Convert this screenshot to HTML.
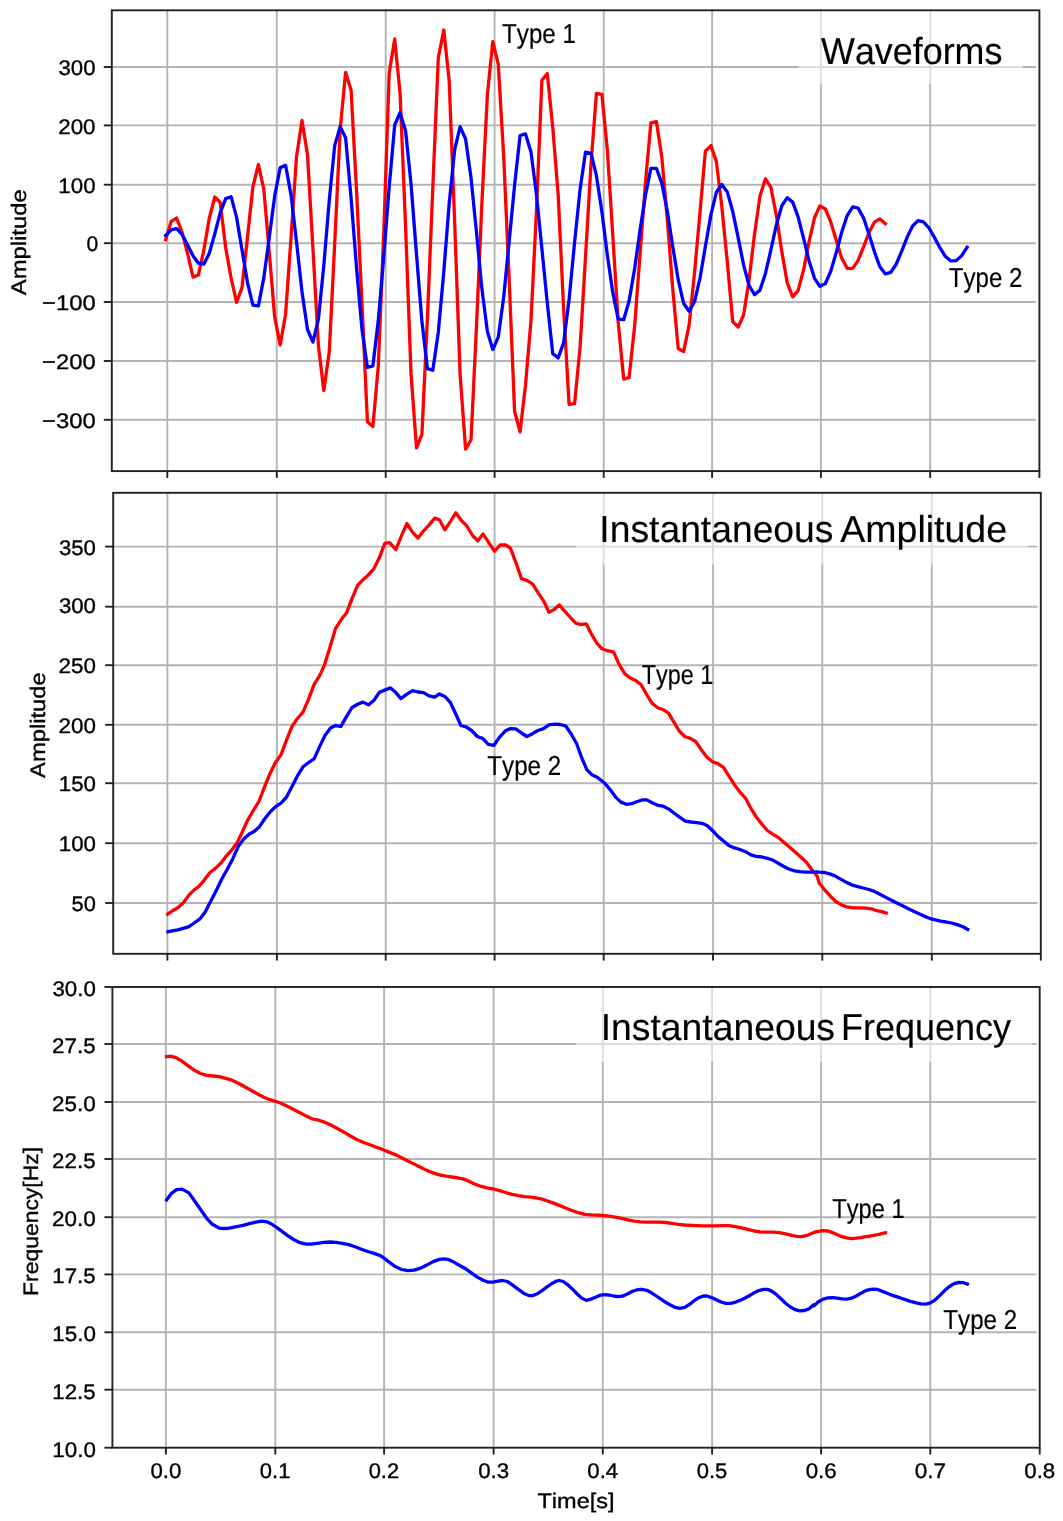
<!DOCTYPE html>
<html><head><meta charset="utf-8"><title>Waveforms</title>
<style>html,body{margin:0;padding:0;background:#fff}svg{display:block;filter:blur(0.4px);font-family:"Liberation Sans",sans-serif;font-kerning:none;text-rendering:geometricPrecision}</style>
</head><body>
<svg width="1063" height="1521" viewBox="0 0 1063 1521">
<line x1="167.3" y1="10.3" x2="167.3" y2="471.1" stroke="#b4b4b4" stroke-width="1.9"/>
<line x1="276.8" y1="10.3" x2="276.8" y2="471.1" stroke="#b4b4b4" stroke-width="1.9"/>
<line x1="385.7" y1="10.3" x2="385.7" y2="471.1" stroke="#b4b4b4" stroke-width="1.9"/>
<line x1="494.6" y1="10.3" x2="494.6" y2="471.1" stroke="#b4b4b4" stroke-width="1.9"/>
<line x1="603.7" y1="10.3" x2="603.7" y2="471.1" stroke="#b4b4b4" stroke-width="1.9"/>
<line x1="712.1" y1="10.3" x2="712.1" y2="471.1" stroke="#b4b4b4" stroke-width="1.9"/>
<line x1="820.9" y1="10.3" x2="820.9" y2="471.1" stroke="#b4b4b4" stroke-width="1.9"/>
<line x1="930.2" y1="10.3" x2="930.2" y2="471.1" stroke="#b4b4b4" stroke-width="1.9"/>
<line x1="111.8" y1="419.8" x2="1036.2" y2="419.8" stroke="#b4b4b4" stroke-width="1.9"/>
<line x1="111.8" y1="361.0" x2="1036.2" y2="361.0" stroke="#b4b4b4" stroke-width="1.9"/>
<line x1="111.8" y1="302.0" x2="1036.2" y2="302.0" stroke="#b4b4b4" stroke-width="1.9"/>
<line x1="111.8" y1="243.2" x2="1036.2" y2="243.2" stroke="#b4b4b4" stroke-width="1.9"/>
<line x1="111.8" y1="184.7" x2="1036.2" y2="184.7" stroke="#b4b4b4" stroke-width="1.9"/>
<line x1="111.8" y1="125.4" x2="1036.2" y2="125.4" stroke="#b4b4b4" stroke-width="1.9"/>
<line x1="111.8" y1="67.0" x2="1036.2" y2="67.0" stroke="#b4b4b4" stroke-width="1.9"/>
<rect x="798" y="11" width="225" height="73" fill="#fff" opacity="0.55"/>
<polyline points="165.7,239.6 171.2,221.3 176.6,218.1 182.1,232.3 187.5,253.1 193.0,277.1 198.4,274.9 203.9,249.7 209.3,218.1 214.8,197.0 220.2,202.4 225.7,248.0 231.1,278.1 236.6,302.4 242.0,287.6 247.5,237.2 252.9,186.8 258.4,164.5 263.8,189.2 269.3,252.6 274.7,317.3 280.2,345.0 285.6,314.1 291.1,236.7 296.5,157.0 302.0,120.5 307.5,154.6 312.9,247.8 318.4,345.5 323.8,390.5 329.3,351.3 334.7,243.7 340.2,129.1 345.6,72.3 351.1,90.3 356.5,189.6 362.0,303.4 367.4,421.7 372.9,426.4 378.3,366.1 383.8,232.1 389.2,73.0 394.7,38.9 400.1,93.5 405.6,227.2 411.0,373.4 416.5,447.9 421.9,434.3 427.4,318.6 432.8,188.1 438.3,57.7 443.8,30.0 449.2,81.0 454.7,223.1 460.1,374.6 465.6,449.1 471.0,440.0 476.5,326.2 481.9,202.7 487.4,94.6 492.8,41.6 498.3,64.4 503.7,156.3 509.2,280.3 514.6,411.5 520.1,431.9 525.5,385.2 531.0,320.3 536.4,212.0 541.9,80.2 547.3,73.6 552.8,127.9 558.2,195.2 563.7,310.5 569.1,404.3 574.6,403.7 580.1,346.9 585.5,257.1 591.0,164.3 596.4,93.5 601.9,94.4 607.3,149.5 612.8,235.6 618.2,322.1 623.7,379.1 629.1,377.5 634.6,326.5 640.0,255.0 645.5,181.9 650.9,122.8 656.4,121.6 661.8,157.0 667.3,219.4 672.7,288.2 678.2,348.5 683.6,351.6 689.1,325.2 694.5,273.1 700.0,212.3 705.4,151.2 710.9,145.6 716.4,161.9 721.8,206.3 727.3,262.0 732.7,321.6 738.2,327.0 743.6,315.0 749.1,279.7 754.5,234.4 760.0,196.1 765.4,178.9 770.9,187.4 776.3,215.1 781.8,251.5 787.2,282.7 792.7,296.8 798.1,290.6 803.6,269.7 809.0,242.0 814.5,217.8 819.9,205.9 825.4,209.0 830.8,222.1 836.3,240.5 841.7,257.9 847.2,268.3 852.7,268.4 858.1,260.3 863.6,246.9 869.0,232.6 874.5,222.1 879.9,218.9 885.4,223.7" fill="none" stroke="#ff0000" stroke-width="3.3" stroke-linejoin="round" stroke-linecap="square"/>
<polyline points="165.7,235.5 171.2,229.9 176.6,228.7 182.1,234.4 187.5,244.7 193.0,255.7 198.4,263.2 203.9,264.1 209.3,253.3 214.8,233.7 220.2,212.9 225.7,198.6 231.1,196.7 236.6,217.4 242.0,249.7 247.5,282.6 252.9,305.2 258.4,305.9 263.8,277.9 269.3,237.2 274.7,195.9 280.2,167.6 285.6,165.4 291.1,195.4 296.5,241.6 302.0,291.8 307.5,329.5 312.9,342.0 318.4,319.4 323.8,265.5 329.3,200.1 334.7,145.6 340.2,126.6 345.6,137.7 351.1,198.4 356.5,267.3 362.0,329.5 367.4,367.4 372.9,365.8 378.3,320.3 383.8,256.0 389.2,186.8 394.7,125.0 400.1,112.7 405.6,131.0 411.0,183.7 416.5,254.5 421.9,321.1 427.4,368.7 432.8,370.2 438.3,332.4 443.8,271.6 449.2,203.4 454.7,149.4 460.1,126.8 465.6,139.0 471.0,177.6 476.5,232.4 481.9,288.8 487.4,331.6 492.8,349.5 498.3,337.1 503.7,297.1 509.2,241.0 514.6,185.1 520.1,135.5 525.5,133.9 531.0,152.1 536.4,193.9 541.9,248.9 547.3,303.2 552.8,353.8 558.2,357.9 563.7,342.5 569.1,299.4 574.6,242.3 580.1,189.2 585.5,152.2 591.0,153.4 596.4,175.4 601.9,211.9 607.3,254.8 612.8,292.7 618.2,319.1 623.7,319.7 629.1,301.0 634.6,268.9 640.0,230.3 645.5,195.3 650.9,168.3 656.4,168.3 661.8,183.1 667.3,211.1 672.7,246.2 678.2,279.7 683.6,303.3 689.1,311.2 694.5,301.8 700.0,278.1 705.4,246.3 710.9,214.9 716.4,192.2 721.8,184.4 727.3,191.9 732.7,211.3 738.2,237.9 743.6,264.9 749.1,285.5 754.5,294.6 760.0,290.1 765.4,273.7 770.9,249.9 776.3,225.0 781.8,205.9 787.2,197.7 792.7,202.1 798.1,216.9 803.6,238.3 809.0,260.7 814.5,278.3 819.9,286.4 825.4,283.5 830.8,271.1 836.3,252.4 841.7,232.2 847.2,215.6 852.7,206.8 858.1,208.0 863.6,218.1 869.0,234.3 874.5,252.1 879.9,266.7 885.4,273.9 890.8,272.4 896.3,264.0 901.7,251.1 907.2,237.1 912.6,226.0 918.1,220.6 923.5,221.9 929.0,228.0 934.4,237.4 939.9,247.7 945.3,256.3 950.8,260.9 956.2,260.6 961.7,255.6 967.1,247.3" fill="none" stroke="#0000ff" stroke-width="3.3" stroke-linejoin="round" stroke-linecap="square"/>
<rect x="111.8" y="10.3" width="927.6" height="460.8" fill="none" stroke="#222" stroke-width="1.9"/>
<line x1="167.3" y1="471.1" x2="167.3" y2="477.9" stroke="#222" stroke-width="1.9"/>
<line x1="276.8" y1="471.1" x2="276.8" y2="477.9" stroke="#222" stroke-width="1.9"/>
<line x1="385.7" y1="471.1" x2="385.7" y2="477.9" stroke="#222" stroke-width="1.9"/>
<line x1="494.6" y1="471.1" x2="494.6" y2="477.9" stroke="#222" stroke-width="1.9"/>
<line x1="603.7" y1="471.1" x2="603.7" y2="477.9" stroke="#222" stroke-width="1.9"/>
<line x1="712.1" y1="471.1" x2="712.1" y2="477.9" stroke="#222" stroke-width="1.9"/>
<line x1="820.9" y1="471.1" x2="820.9" y2="477.9" stroke="#222" stroke-width="1.9"/>
<line x1="930.2" y1="471.1" x2="930.2" y2="477.9" stroke="#222" stroke-width="1.9"/>
<line x1="1039.4" y1="471.1" x2="1039.4" y2="477.9" stroke="#222" stroke-width="1.9"/>
<line x1="103.8" y1="419.8" x2="111.8" y2="419.8" stroke="#222" stroke-width="1.9"/>
<line x1="103.8" y1="361.0" x2="111.8" y2="361.0" stroke="#222" stroke-width="1.9"/>
<line x1="103.8" y1="302.0" x2="111.8" y2="302.0" stroke="#222" stroke-width="1.9"/>
<line x1="103.8" y1="243.2" x2="111.8" y2="243.2" stroke="#222" stroke-width="1.9"/>
<line x1="103.8" y1="184.7" x2="111.8" y2="184.7" stroke="#222" stroke-width="1.9"/>
<line x1="103.8" y1="125.4" x2="111.8" y2="125.4" stroke="#222" stroke-width="1.9"/>
<line x1="103.8" y1="67.0" x2="111.8" y2="67.0" stroke="#222" stroke-width="1.9"/>
<text transform="translate(42.03 428.00) scale(1.1328 1)" font-size="21" fill="#000" stroke="#000" stroke-width="0.35">−300</text>
<text transform="translate(42.03 369.20) scale(1.1328 1)" font-size="21" fill="#000" stroke="#000" stroke-width="0.35">−200</text>
<text transform="translate(42.03 310.20) scale(1.1328 1)" font-size="21" fill="#000" stroke="#000" stroke-width="0.35">−100</text>
<text transform="translate(86.38 251.40) scale(1.0041 1)" font-size="21" fill="#000" stroke="#000" stroke-width="0.35">0</text>
<text transform="translate(58.34 192.90) scale(1.0620 1)" font-size="21" fill="#000" stroke="#000" stroke-width="0.35">100</text>
<text transform="translate(58.17 133.60) scale(1.0669 1)" font-size="21" fill="#000" stroke="#000" stroke-width="0.35">200</text>
<text transform="translate(58.51 75.20) scale(1.0569 1)" font-size="21" fill="#000" stroke="#000" stroke-width="0.35">300</text>
<text transform="translate(26.00 295.25) rotate(-90) scale(1.1352 1)" font-size="21" fill="#000" stroke="#000" stroke-width="0.35">Amplitude</text>
<text transform="translate(821.04 63.70) scale(0.9545 1)" font-size="37.6" fill="#000" stroke="#000" stroke-width="0.15">Waveforms</text>
<text transform="translate(502.06 42.80) scale(0.8825 1)" font-size="27.4" fill="#000" stroke="#000" stroke-width="0.2">Type 1</text>
<text transform="translate(948.76 286.80) scale(0.8793 1)" font-size="27.4" fill="#000" stroke="#000" stroke-width="0.2">Type 2</text>
<line x1="167.4" y1="492.8" x2="167.4" y2="953.8" stroke="#b4b4b4" stroke-width="1.9"/>
<line x1="276.9" y1="492.8" x2="276.9" y2="953.8" stroke="#b4b4b4" stroke-width="1.9"/>
<line x1="385.7" y1="492.8" x2="385.7" y2="953.8" stroke="#b4b4b4" stroke-width="1.9"/>
<line x1="494.6" y1="492.8" x2="494.6" y2="953.8" stroke="#b4b4b4" stroke-width="1.9"/>
<line x1="603.7" y1="492.8" x2="603.7" y2="953.8" stroke="#b4b4b4" stroke-width="1.9"/>
<line x1="713.0" y1="492.8" x2="713.0" y2="953.8" stroke="#b4b4b4" stroke-width="1.9"/>
<line x1="822.3" y1="492.8" x2="822.3" y2="953.8" stroke="#b4b4b4" stroke-width="1.9"/>
<line x1="931.8" y1="492.8" x2="931.8" y2="953.8" stroke="#b4b4b4" stroke-width="1.9"/>
<line x1="113.2" y1="903.0" x2="1037.6" y2="903.0" stroke="#b4b4b4" stroke-width="1.9"/>
<line x1="113.2" y1="843.2" x2="1037.6" y2="843.2" stroke="#b4b4b4" stroke-width="1.9"/>
<line x1="113.2" y1="783.2" x2="1037.6" y2="783.2" stroke="#b4b4b4" stroke-width="1.9"/>
<line x1="113.2" y1="724.8" x2="1037.6" y2="724.8" stroke="#b4b4b4" stroke-width="1.9"/>
<line x1="113.2" y1="665.2" x2="1037.6" y2="665.2" stroke="#b4b4b4" stroke-width="1.9"/>
<line x1="113.2" y1="606.7" x2="1037.6" y2="606.7" stroke="#b4b4b4" stroke-width="1.9"/>
<line x1="113.2" y1="546.6" x2="1037.6" y2="546.6" stroke="#b4b4b4" stroke-width="1.9"/>
<rect x="576" y="494" width="452" height="70.5" fill="#fff" opacity="0.55"/>
<polyline points="166.4,915.1 172.1,911.0 177.8,907.8 183.1,903.1 189.4,894.6 194.2,889.9 198.9,886.4 204.3,880.1 210.0,872.5 215.3,868.4 221.0,863.0 225.7,856.7 231.4,850.4 236.8,843.2 241.5,833.7 247.2,821.1 252.6,811.6 258.9,801.5 264.2,787.9 269.9,773.7 275.3,762.7 281.0,754.8 286.3,740.6 292.0,726.4 297.4,718.5 303.0,712.2 308.4,699.6 314.1,684.4 319.5,675.9 324.2,665.8 329.9,647.5 335.5,628.6 340.9,620.1 346.6,612.8 352.0,598.6 357.6,585.3 363.0,579.7 368.4,574.9 374.0,568.6 379.4,557.6 384.8,543.4 389.6,542.7 395.9,549.7 401.6,535.5 406.9,523.5 412.6,532.3 418.0,538.0 423.6,530.8 429.0,525.1 434.7,518.1 439.4,519.7 444.8,529.8 450.5,521.3 455.8,512.8 461.5,520.7 466.2,525.1 472.6,535.5 477.9,540.9 483.0,533.9 488.3,541.8 494.6,551.3 500.0,545.0 505.7,545.0 510.4,548.1 515.8,562.3 521.5,578.7 526.8,580.3 532.5,583.8 537.9,592.3 543.6,600.8 548.9,612.2 554.0,609.6 559.3,604.9 564.7,611.2 570.4,617.5 575.7,623.2 580.8,624.5 586.2,623.8 591.8,634.9 597.2,643.7 601.7,648.5 607.4,650.7 613.7,652.2 619.0,664.2 624.7,673.7 630.4,678.1 635.8,680.6 641.1,684.7 646.8,694.8 652.2,703.4 657.8,707.8 663.2,709.7 668.3,712.8 673.6,721.7 679.3,731.1 684.7,736.5 690.3,738.4 695.7,741.5 701.1,749.4 706.8,757.0 712.4,761.7 717.8,763.6 723.5,767.4 728.8,775.9 734.5,784.8 739.9,792.0 745.6,798.3 750.9,808.4 756.3,817.0 762.0,824.2 767.3,830.5 773.0,834.3 778.4,837.5 784.1,842.5 789.4,846.9 795.1,852.0 800.5,856.7 806.2,862.1 811.5,869.3 817.2,876.3 819.3,883.2 824.7,889.9 830.4,896.2 835.8,901.5 841.1,904.7 846.8,906.9 853.1,907.8 859.4,907.8 865.7,908.2 871.4,908.8 876.8,910.7 882.5,911.9 887.8,913.5" fill="none" stroke="#ff0000" stroke-width="3.3" stroke-linejoin="round" stroke-linecap="butt"/>
<polyline points="166.4,932.1 172.1,930.9 177.8,929.9 183.1,928.4 188.5,926.8 194.2,923.0 199.9,918.9 205.2,911.9 210.6,901.5 216.3,890.5 221.9,878.8 227.3,869.3 232.7,858.9 238.4,846.3 243.7,839.1 249.4,834.0 254.1,831.5 259.5,826.7 264.2,819.5 269.9,812.2 275.3,806.9 281.0,803.1 286.3,797.4 292.0,786.4 297.4,775.9 303.0,766.8 308.4,762.7 314.1,758.9 319.5,746.9 325.1,735.2 330.5,728.0 335.5,725.5 340.9,726.4 346.3,716.9 352.0,707.5 357.6,704.3 363.0,702.1 368.4,704.9 374.0,700.2 379.4,692.3 384.8,690.1 390.5,687.9 395.9,692.6 400.9,698.6 406.9,694.2 412.6,690.7 418.0,692.0 423.6,692.6 429.0,695.8 434.7,697.1 439.4,693.9 444.8,696.4 450.5,702.7 455.2,712.8 460.9,725.5 466.2,727.0 471.6,730.5 477.3,736.5 482.7,738.4 488.3,744.4 494.0,745.3 499.4,737.4 505.1,731.1 510.4,728.6 515.8,728.9 521.5,733.0 526.8,736.5 532.5,733.7 537.9,730.5 543.6,728.6 548.9,724.8 554.6,724.2 560.0,724.5 565.6,725.8 571.0,733.7 576.7,743.8 581.4,757.0 586.8,769.6 591.8,774.7 597.2,777.2 604.8,783.2 610.5,790.1 615.9,797.4 620.9,802.1 626.3,804.3 631.7,803.7 637.3,801.5 642.7,799.9 646.8,799.9 652.2,802.8 657.8,805.3 663.2,806.2 668.9,809.1 674.3,813.2 679.9,817.3 685.3,821.1 691.0,822.0 696.3,822.6 702.0,823.3 707.4,825.8 713.1,831.2 718.4,836.8 724.1,841.6 728.8,845.4 734.5,847.9 739.9,849.5 745.6,851.7 750.9,854.8 756.3,856.4 762.0,857.0 767.3,858.3 772.4,859.9 777.8,863.0 783.4,866.2 788.8,869.0 794.5,870.9 799.8,871.6 805.5,872.2 810.9,872.2 816.6,871.9 819.3,872.2 824.7,872.5 830.4,874.1 835.8,876.3 841.1,879.4 846.8,882.6 852.2,885.1 857.8,886.7 863.2,888.0 868.9,889.5 874.3,891.4 879.9,894.3 885.3,897.1 891.0,900.0 896.3,902.8 902.0,905.6 907.4,908.2 913.1,911.0 918.4,913.5 924.1,916.1 929.5,918.3 935.2,919.8 940.5,921.1 946.2,922.0 951.6,923.0 957.2,924.6 962.9,926.8 969.2,930.3" fill="none" stroke="#0000ff" stroke-width="3.3" stroke-linejoin="round" stroke-linecap="butt"/>
<rect x="113.2" y="492.8" width="927.6" height="461.0" fill="none" stroke="#222" stroke-width="1.9"/>
<line x1="167.4" y1="953.8" x2="167.4" y2="960.6" stroke="#222" stroke-width="1.9"/>
<line x1="276.9" y1="953.8" x2="276.9" y2="960.6" stroke="#222" stroke-width="1.9"/>
<line x1="385.7" y1="953.8" x2="385.7" y2="960.6" stroke="#222" stroke-width="1.9"/>
<line x1="494.6" y1="953.8" x2="494.6" y2="960.6" stroke="#222" stroke-width="1.9"/>
<line x1="603.7" y1="953.8" x2="603.7" y2="960.6" stroke="#222" stroke-width="1.9"/>
<line x1="713.0" y1="953.8" x2="713.0" y2="960.6" stroke="#222" stroke-width="1.9"/>
<line x1="822.3" y1="953.8" x2="822.3" y2="960.6" stroke="#222" stroke-width="1.9"/>
<line x1="931.8" y1="953.8" x2="931.8" y2="960.6" stroke="#222" stroke-width="1.9"/>
<line x1="1040.8" y1="953.8" x2="1040.8" y2="960.6" stroke="#222" stroke-width="1.9"/>
<line x1="105.2" y1="903.0" x2="113.2" y2="903.0" stroke="#222" stroke-width="1.9"/>
<line x1="105.2" y1="843.2" x2="113.2" y2="843.2" stroke="#222" stroke-width="1.9"/>
<line x1="105.2" y1="783.2" x2="113.2" y2="783.2" stroke="#222" stroke-width="1.9"/>
<line x1="105.2" y1="724.8" x2="113.2" y2="724.8" stroke="#222" stroke-width="1.9"/>
<line x1="105.2" y1="665.2" x2="113.2" y2="665.2" stroke="#222" stroke-width="1.9"/>
<line x1="105.2" y1="606.7" x2="113.2" y2="606.7" stroke="#222" stroke-width="1.9"/>
<line x1="105.2" y1="546.6" x2="113.2" y2="546.6" stroke="#222" stroke-width="1.9"/>
<text transform="translate(71.62 911.20) scale(1.0407 1)" font-size="21" fill="#000" stroke="#000" stroke-width="0.35">50</text>
<text transform="translate(58.74 851.40) scale(1.0620 1)" font-size="21" fill="#000" stroke="#000" stroke-width="0.35">100</text>
<text transform="translate(58.74 791.40) scale(1.0620 1)" font-size="21" fill="#000" stroke="#000" stroke-width="0.35">150</text>
<text transform="translate(58.57 733.00) scale(1.0669 1)" font-size="21" fill="#000" stroke="#000" stroke-width="0.35">200</text>
<text transform="translate(58.57 673.40) scale(1.0669 1)" font-size="21" fill="#000" stroke="#000" stroke-width="0.35">250</text>
<text transform="translate(58.91 613.40) scale(1.0569 1)" font-size="21" fill="#000" stroke="#000" stroke-width="0.35">300</text>
<text transform="translate(58.91 554.80) scale(1.0569 1)" font-size="21" fill="#000" stroke="#000" stroke-width="0.35">350</text>
<text transform="translate(44.70 777.95) rotate(-90) scale(1.1319 1)" font-size="21" fill="#000" stroke="#000" stroke-width="0.35">Amplitude</text>
<text transform="translate(599.36 542.40) scale(0.9914 1)" font-size="37.6" fill="#000" stroke="#000" stroke-width="0.15">Instantaneous</text>
<text transform="translate(840.33 542.40) scale(0.9979 1)" font-size="37.6" fill="#000" stroke="#000" stroke-width="0.15">Amplitude</text>
<text transform="translate(641.77 684.40) scale(0.8544 1)" font-size="27.4" fill="#000" stroke="#000" stroke-width="0.2">Type 1</text>
<text transform="translate(487.36 775.30) scale(0.8817 1)" font-size="27.4" fill="#000" stroke="#000" stroke-width="0.2">Type 2</text>
<line x1="165.9" y1="987.0" x2="165.9" y2="1447.7" stroke="#b4b4b4" stroke-width="1.9"/>
<line x1="275.3" y1="987.0" x2="275.3" y2="1447.7" stroke="#b4b4b4" stroke-width="1.9"/>
<line x1="384.1" y1="987.0" x2="384.1" y2="1447.7" stroke="#b4b4b4" stroke-width="1.9"/>
<line x1="493.6" y1="987.0" x2="493.6" y2="1447.7" stroke="#b4b4b4" stroke-width="1.9"/>
<line x1="602.8" y1="987.0" x2="602.8" y2="1447.7" stroke="#b4b4b4" stroke-width="1.9"/>
<line x1="712.1" y1="987.0" x2="712.1" y2="1447.7" stroke="#b4b4b4" stroke-width="1.9"/>
<line x1="821.1" y1="987.0" x2="821.1" y2="1447.7" stroke="#b4b4b4" stroke-width="1.9"/>
<line x1="930.3" y1="987.0" x2="930.3" y2="1447.7" stroke="#b4b4b4" stroke-width="1.9"/>
<line x1="112.4" y1="1389.7" x2="1036.5" y2="1389.7" stroke="#b4b4b4" stroke-width="1.9"/>
<line x1="112.4" y1="1332.3" x2="1036.5" y2="1332.3" stroke="#b4b4b4" stroke-width="1.9"/>
<line x1="112.4" y1="1274.4" x2="1036.5" y2="1274.4" stroke="#b4b4b4" stroke-width="1.9"/>
<line x1="112.4" y1="1217.2" x2="1036.5" y2="1217.2" stroke="#b4b4b4" stroke-width="1.9"/>
<line x1="112.4" y1="1159.0" x2="1036.5" y2="1159.0" stroke="#b4b4b4" stroke-width="1.9"/>
<line x1="112.4" y1="1102.0" x2="1036.5" y2="1102.0" stroke="#b4b4b4" stroke-width="1.9"/>
<line x1="112.4" y1="1044.0" x2="1036.5" y2="1044.0" stroke="#b4b4b4" stroke-width="1.9"/>
<rect x="576" y="988" width="456" height="74" fill="#fff" opacity="0.55"/>
<polyline points="164.8,1056.8 170.5,1056.2 175.9,1057.7 181.6,1060.9 187.9,1065.6 194.2,1070.1 200.5,1073.5 206.8,1075.4 213.1,1076.0 219.4,1076.7 225.7,1078.3 232.0,1080.2 238.4,1083.3 244.7,1086.8 251.0,1090.2 257.3,1093.7 263.6,1097.2 269.9,1099.7 275.3,1101.3 281.0,1103.2 287.3,1106.3 293.6,1109.5 299.9,1112.7 306.2,1116.1 312.5,1119.0 318.8,1120.2 325.1,1122.4 331.4,1125.3 337.8,1128.7 344.1,1132.2 350.4,1136.0 356.7,1139.5 363.0,1142.3 369.3,1144.5 375.6,1147.0 381.9,1149.3 388.9,1152.1 395.2,1154.6 401.6,1157.8 407.9,1160.9 414.2,1164.1 420.5,1167.2 426.8,1170.4 433.1,1172.9 439.4,1174.8 445.7,1176.1 452.0,1177.0 458.4,1178.0 463.1,1178.9 467.8,1180.8 474.1,1183.7 480.4,1186.2 486.8,1187.8 493.7,1189.0 499.4,1190.6 505.7,1192.5 512.0,1194.4 518.3,1195.6 524.6,1196.6 530.9,1197.2 537.2,1198.2 542.0,1199.1 546.7,1200.7 553.0,1202.9 559.3,1205.4 565.6,1208.0 572.0,1210.5 578.3,1212.7 584.6,1214.3 590.9,1214.9 597.2,1215.2 602.6,1215.5 608.9,1216.2 615.2,1217.1 621.6,1218.4 627.9,1219.9 634.2,1221.2 640.5,1221.8 646.8,1222.2 653.1,1222.2 659.4,1222.2 665.7,1222.5 672.0,1223.4 678.4,1224.4 684.7,1225.0 691.0,1225.3 697.3,1225.6 703.6,1225.9 709.9,1225.9 716.2,1225.9 722.5,1225.6 728.8,1225.6 735.2,1226.6 741.5,1227.8 747.8,1229.4 754.1,1231.0 760.4,1231.9 766.7,1232.2 773.0,1232.2 779.3,1232.6 785.6,1233.8 792.0,1235.4 796.7,1236.4 801.4,1236.7 806.2,1235.7 810.9,1233.8 815.6,1231.9 818.4,1231.3 823.1,1230.7 827.9,1231.0 832.6,1232.6 837.3,1234.8 842.1,1236.7 846.8,1237.9 851.5,1238.6 856.3,1238.2 861.0,1237.6 865.7,1236.7 870.5,1236.0 875.2,1235.1 879.9,1234.1 884.7,1232.9 887.2,1232.6" fill="none" stroke="#ff0000" stroke-width="3.3" stroke-linejoin="round" stroke-linecap="butt"/>
<polyline points="165.6,1201.3 171.1,1193.7 176.6,1189.7 182.1,1189.1 188.9,1192.9 194.8,1201.3 200.7,1209.8 206.7,1218.3 212.6,1224.6 220.2,1228.4 227.0,1228.5 230.5,1227.8 236.8,1226.6 243.1,1225.3 249.4,1223.7 255.7,1222.2 262.0,1221.2 266.8,1221.8 271.5,1224.0 276.2,1227.2 281.0,1230.7 287.3,1235.4 293.6,1239.5 299.9,1242.7 306.2,1244.2 310.9,1244.2 317.2,1243.3 323.6,1242.3 329.9,1242.0 336.2,1242.3 342.5,1243.3 348.8,1244.6 355.1,1246.8 361.4,1249.3 367.7,1251.5 374.0,1253.4 380.4,1255.6 382.6,1257.2 388.9,1261.9 395.2,1266.6 401.6,1269.5 407.9,1270.7 414.2,1270.1 420.5,1268.2 426.8,1265.1 433.1,1261.6 439.4,1259.4 444.2,1258.8 448.9,1259.7 453.6,1261.9 458.4,1264.8 464.7,1268.2 471.0,1272.6 477.3,1277.1 483.6,1280.5 488.3,1282.1 493.1,1282.1 497.8,1281.2 502.5,1280.5 507.3,1281.5 512.0,1284.6 518.3,1289.4 524.6,1293.8 529.4,1295.7 532.5,1295.7 537.2,1293.8 542.0,1290.6 546.7,1287.2 551.4,1283.7 556.2,1281.2 559.3,1280.5 563.1,1281.5 567.2,1284.3 572.0,1288.7 576.7,1293.5 581.4,1297.9 586.2,1300.4 590.9,1299.1 595.6,1297.3 599.5,1295.4 604.2,1294.7 608.9,1295.0 613.7,1296.0 618.4,1296.6 623.1,1296.0 627.9,1293.8 632.6,1291.3 637.3,1289.7 642.1,1289.4 646.8,1290.3 651.5,1292.8 656.3,1296.0 661.0,1299.1 665.7,1302.3 670.5,1305.1 675.2,1307.4 679.9,1308.3 684.7,1307.4 689.4,1304.5 694.1,1300.7 698.9,1297.6 703.6,1296.0 706.8,1296.0 711.5,1297.6 716.2,1299.8 721.0,1302.0 725.7,1303.3 730.4,1303.3 735.2,1302.3 739.9,1300.4 744.6,1298.2 749.4,1295.7 754.1,1292.8 758.8,1290.6 763.6,1289.4 767.3,1289.4 771.4,1290.9 776.2,1294.4 780.9,1298.8 785.6,1303.3 790.4,1307.0 795.1,1309.6 799.8,1310.8 804.6,1310.5 809.3,1308.6 813.7,1304.8 814.0,1305.8 818.4,1301.7 823.1,1299.1 827.9,1297.9 832.6,1297.6 837.3,1298.2 842.1,1298.8 846.8,1299.1 851.5,1298.2 856.3,1296.0 861.0,1293.2 865.7,1290.6 870.5,1289.4 874.6,1289.1 878.4,1289.7 883.1,1291.6 887.8,1293.5 892.6,1295.4 897.3,1296.9 902.0,1298.5 906.8,1300.1 911.5,1301.7 916.2,1302.9 921.0,1303.9 925.7,1304.2 930.4,1302.9 935.2,1299.8 939.9,1295.4 944.6,1290.6 949.4,1286.5 954.1,1283.7 958.8,1282.4 963.6,1282.7 968.9,1284.6" fill="none" stroke="#0000ff" stroke-width="3.3" stroke-linejoin="round" stroke-linecap="butt"/>
<rect x="112.4" y="987.0" width="927.3" height="460.7" fill="none" stroke="#222" stroke-width="1.9"/>
<line x1="165.9" y1="1447.7" x2="165.9" y2="1454.5" stroke="#222" stroke-width="1.9"/>
<line x1="275.3" y1="1447.7" x2="275.3" y2="1454.5" stroke="#222" stroke-width="1.9"/>
<line x1="384.1" y1="1447.7" x2="384.1" y2="1454.5" stroke="#222" stroke-width="1.9"/>
<line x1="493.6" y1="1447.7" x2="493.6" y2="1454.5" stroke="#222" stroke-width="1.9"/>
<line x1="602.8" y1="1447.7" x2="602.8" y2="1454.5" stroke="#222" stroke-width="1.9"/>
<line x1="712.1" y1="1447.7" x2="712.1" y2="1454.5" stroke="#222" stroke-width="1.9"/>
<line x1="821.1" y1="1447.7" x2="821.1" y2="1454.5" stroke="#222" stroke-width="1.9"/>
<line x1="930.3" y1="1447.7" x2="930.3" y2="1454.5" stroke="#222" stroke-width="1.9"/>
<line x1="1039.7" y1="1447.7" x2="1039.7" y2="1454.5" stroke="#222" stroke-width="1.9"/>
<line x1="104.4" y1="1447.7" x2="112.4" y2="1447.7" stroke="#222" stroke-width="1.9"/>
<line x1="104.4" y1="1389.7" x2="112.4" y2="1389.7" stroke="#222" stroke-width="1.9"/>
<line x1="104.4" y1="1332.3" x2="112.4" y2="1332.3" stroke="#222" stroke-width="1.9"/>
<line x1="104.4" y1="1274.4" x2="112.4" y2="1274.4" stroke="#222" stroke-width="1.9"/>
<line x1="104.4" y1="1217.2" x2="112.4" y2="1217.2" stroke="#222" stroke-width="1.9"/>
<line x1="104.4" y1="1159.0" x2="112.4" y2="1159.0" stroke="#222" stroke-width="1.9"/>
<line x1="104.4" y1="1102.0" x2="112.4" y2="1102.0" stroke="#222" stroke-width="1.9"/>
<line x1="104.4" y1="1044.0" x2="112.4" y2="1044.0" stroke="#222" stroke-width="1.9"/>
<line x1="104.4" y1="987.0" x2="112.4" y2="987.0" stroke="#222" stroke-width="1.9"/>
<text transform="translate(52.27 1456.50) scale(1.0663 1)" font-size="21" fill="#000" stroke="#000" stroke-width="0.35">10.0</text>
<text transform="translate(52.29 1398.50) scale(1.0586 1)" font-size="21" fill="#000" stroke="#000" stroke-width="0.35">12.5</text>
<text transform="translate(52.27 1341.10) scale(1.0663 1)" font-size="21" fill="#000" stroke="#000" stroke-width="0.35">15.0</text>
<text transform="translate(52.29 1283.20) scale(1.0586 1)" font-size="21" fill="#000" stroke="#000" stroke-width="0.35">17.5</text>
<text transform="translate(52.11 1226.00) scale(1.0704 1)" font-size="21" fill="#000" stroke="#000" stroke-width="0.35">20.0</text>
<text transform="translate(52.12 1167.80) scale(1.0628 1)" font-size="21" fill="#000" stroke="#000" stroke-width="0.35">22.5</text>
<text transform="translate(52.11 1110.80) scale(1.0704 1)" font-size="21" fill="#000" stroke="#000" stroke-width="0.35">25.0</text>
<text transform="translate(52.12 1052.80) scale(1.0628 1)" font-size="21" fill="#000" stroke="#000" stroke-width="0.35">27.5</text>
<text transform="translate(52.45 995.80) scale(1.0619 1)" font-size="21" fill="#000" stroke="#000" stroke-width="0.35">30.0</text>
<text transform="translate(38.30 1295.98) rotate(-90) scale(1.0913 1)" font-size="21" fill="#000" stroke="#000" stroke-width="0.35">Frequency[Hz]</text>
<text transform="translate(600.76 1040.30) scale(0.9922 1)" font-size="37.6" fill="#000" stroke="#000" stroke-width="0.15">Instantaneous</text>
<text transform="translate(841.05 1040.30) scale(0.9571 1)" font-size="37.6" fill="#000" stroke="#000" stroke-width="0.15">Frequency</text>
<text transform="translate(832.27 1217.70) scale(0.8630 1)" font-size="27.4" fill="#000" stroke="#000" stroke-width="0.2">Type 1</text>
<text transform="translate(943.36 1328.80) scale(0.8817 1)" font-size="27.4" fill="#000" stroke="#000" stroke-width="0.2">Type 2</text>
<text transform="translate(150.45 1478.40) scale(1.0584 1)" font-size="21" fill="#000" stroke="#000" stroke-width="0.35">0.0</text>
<text transform="translate(259.86 1478.40) scale(1.0473 1)" font-size="21" fill="#000" stroke="#000" stroke-width="0.35">0.1</text>
<text transform="translate(368.66 1478.40) scale(1.0426 1)" font-size="21" fill="#000" stroke="#000" stroke-width="0.35">0.2</text>
<text transform="translate(478.15 1478.40) scale(1.0616 1)" font-size="21" fill="#000" stroke="#000" stroke-width="0.35">0.3</text>
<text transform="translate(587.35 1478.40) scale(1.0577 1)" font-size="21" fill="#000" stroke="#000" stroke-width="0.35">0.4</text>
<text transform="translate(696.66 1478.40) scale(1.0476 1)" font-size="21" fill="#000" stroke="#000" stroke-width="0.35">0.5</text>
<text transform="translate(805.65 1478.40) scale(1.0645 1)" font-size="21" fill="#000" stroke="#000" stroke-width="0.35">0.6</text>
<text transform="translate(914.84 1478.40) scale(1.0704 1)" font-size="21" fill="#000" stroke="#000" stroke-width="0.35">0.7</text>
<text transform="translate(1024.25 1478.40) scale(1.0605 1)" font-size="21" fill="#000" stroke="#000" stroke-width="0.35">0.8</text>
<text transform="translate(537.47 1507.90) scale(1.1202 1)" font-size="21" fill="#000" stroke="#000" stroke-width="0.35">Time[s]</text>
</svg>
</body></html>
